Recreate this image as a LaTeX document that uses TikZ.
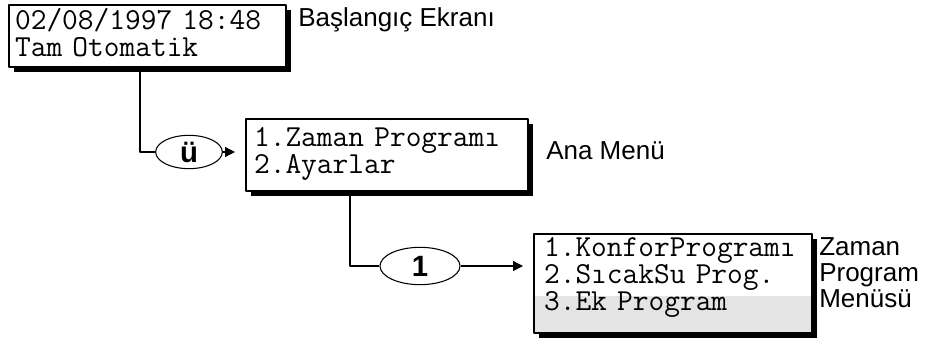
\documentclass[tikz,border=0pt]{standalone}
\usepackage{fontspec}
\setmainfont{Liberation Sans}
\usetikzlibrary{shapes.geometric,shadows,arrows.meta}
\definecolor{lcdgray}{HTML}{E4E4E4}
\tikzset{
  lcd/.style={draw, line width=1.6pt, fill=white, anchor=north west, inner ysep=0pt,
    align=left, font={\fontsize{22.9pt}{20.25pt}\selectfont\ttfamily},
    drop shadow={shadow xshift=4pt, shadow yshift=-4pt, fill=black, opacity=1}},
  key/.style={draw, ellipse, line width=0.8pt, inner sep=0pt, font={\fontsize{22pt}{22pt}\selectfont\bfseries}},
  caption/.style={anchor=base west, align=left, inner sep=0pt, font={\fontsize{19.5pt}{19.5pt}\selectfont}}
}
\begin{document}
\begin{tikzpicture}[x=0.75pt,y=-0.75pt, line join=round, >={Triangle[length=7.5pt,width=7.5pt]}]
  \useasboundingbox (0,0) rectangle (952,342);
  % screens
  \node[lcd, inner xsep=4.5pt, text width=198.75pt, text height=18pt, text depth=28.5pt] (start) at (8,4)
    {02/08/1997 18:48\\Tam Otomatik};
  \node[lcd, inner xsep=6pt, text width=199.5pt, text height=20.25pt, text depth=33.75pt] (menu) at (245,118)
    {1.Zaman Programı\\2.Ayarlar};
  \node[lcd, inner xsep=7.5pt, text width=193.5pt, text height=16.5pt, text depth=57.75pt,
    path picture={\fill[lcdgray] (path picture bounding box.south west) rectangle ([yshift=27.75pt]path picture bounding box.south east);}]
    (prog) at (533,233) {1.KonforProgramı\\2.SıcakSu Prog.\\3.Ek Program};
  % captions
  \node[caption] (startcap) at (298,27) {Başlangıç Ekranı};
  \node[caption] (menucap) at (546,160) {Ana Menü};
  \node[caption] (progcap) at (819,307) {Zaman\\Program\\Menüsü};
  % keys
  \node[key, minimum width=50pt, minimum height=25pt] (ue) at (189,152) {ü};
  \node[key, minimum width=60pt, minimum height=28pt] (one) at (420,266) {1};
  % connectors
  \draw[line width=0.9pt] ([xshift=99pt]start.south west) |- (ue);
  \draw[line width=0.9pt, ->, shorten >=7.5pt] (ue.east) -- (ue.east -| menu.west);
  \draw[line width=0.9pt] ([xshift=78.75pt]menu.south west) |- (one);
  \draw[line width=0.9pt, ->, shorten >=7.5pt] (one.east) -- (one.east -| prog.west);
\end{tikzpicture}
\end{document}
